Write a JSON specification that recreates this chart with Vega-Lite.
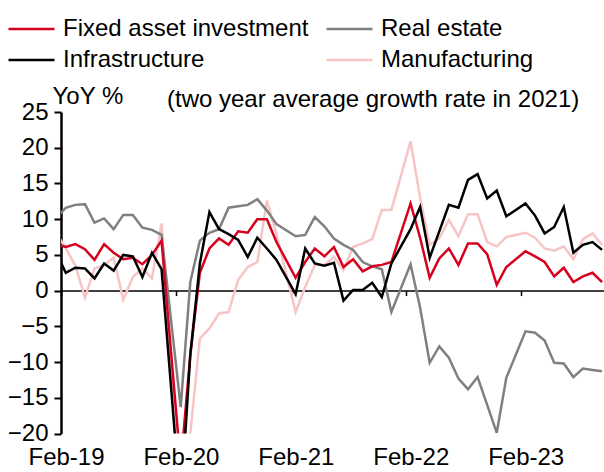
{
  "$schema": "https://vega.github.io/schema/vega-lite/v6.json",
  "width": 543,
  "height": 321.5,
  "autosize": {"type": "none"},
  "padding": {"left": 61, "top": 112, "right": 0, "bottom": 38.5},
  "background": "white",
  "config": {
    "view": {"stroke": null},
    "font": "Liberation Sans"
  },
  "title": {
    "text": "(two year average growth rate in 2021)",
    "orient": "top",
    "anchor": "start",
    "frame": "group",
    "dx": 106,
    "dy": 118,
    "offset": 2,
    "baseline": "alphabetic",
    "fontSize": 24,
    "fontWeight": "normal",
    "color": "#000000",
    "font": "Liberation Sans"
  },
  "data": {
    "values": [
      {"month": "Dec-18", "i": -2, "Fixed asset investment": 6.9, "Real estate": 8.7, "Infrastructure": 8.1, "Manufacturing": 10.3},
      {"month": "Feb-19", "i": 0, "Fixed asset investment": 6.1, "Real estate": 11.6, "Infrastructure": 2.5, "Manufacturing": 5.9},
      {"month": "Mar-19", "i": 1, "Fixed asset investment": 6.5, "Real estate": 12.0, "Infrastructure": 3.2, "Manufacturing": 3.5},
      {"month": "Apr-19", "i": 2, "Fixed asset investment": 5.8, "Real estate": 12.1, "Infrastructure": 3.1, "Manufacturing": -1.0},
      {"month": "May-19", "i": 3, "Fixed asset investment": 4.3, "Real estate": 9.5, "Infrastructure": 1.7, "Manufacturing": 3.1},
      {"month": "Jun-19", "i": 4, "Fixed asset investment": 6.5, "Real estate": 10.1, "Infrastructure": 3.8, "Manufacturing": 3.6},
      {"month": "Jul-19", "i": 5, "Fixed asset investment": 5.3, "Real estate": 8.6, "Infrastructure": 2.8, "Manufacturing": 4.6},
      {"month": "Aug-19", "i": 6, "Fixed asset investment": 4.4, "Real estate": 10.6, "Infrastructure": 5.0, "Manufacturing": -1.3},
      {"month": "Sep-19", "i": 7, "Fixed asset investment": 4.6, "Real estate": 10.6, "Infrastructure": 4.8, "Manufacturing": 1.9},
      {"month": "Oct-19", "i": 8, "Fixed asset investment": 3.7, "Real estate": 8.8, "Infrastructure": 1.9, "Manufacturing": 3.1},
      {"month": "Nov-19", "i": 9, "Fixed asset investment": 5.0, "Real estate": 8.5, "Infrastructure": 5.3, "Manufacturing": 1.7},
      {"month": "Dec-19", "i": 10, "Fixed asset investment": 7.0, "Real estate": 7.8, "Infrastructure": 3.0, "Manufacturing": 9.4},
      {"month": "Feb-20", "i": 12, "Fixed asset investment": -24.5, "Real estate": -16.3, "Infrastructure": -30.3, "Manufacturing": -31.5},
      {"month": "Mar-20", "i": 13, "Fixed asset investment": -9.0, "Real estate": 1.2, "Infrastructure": -9.0, "Manufacturing": -20.0},
      {"month": "Apr-20", "i": 14, "Fixed asset investment": 2.5, "Real estate": 7.0, "Infrastructure": 3.8, "Manufacturing": -6.7},
      {"month": "May-20", "i": 15, "Fixed asset investment": 5.9, "Real estate": 8.1, "Infrastructure": 11.0, "Manufacturing": -5.3},
      {"month": "Jun-20", "i": 16, "Fixed asset investment": 7.3, "Real estate": 8.6, "Infrastructure": 8.6, "Manufacturing": -3.2},
      {"month": "Jul-20", "i": 17, "Fixed asset investment": 6.4, "Real estate": 11.6, "Infrastructure": 7.9, "Manufacturing": -3.0},
      {"month": "Aug-20", "i": 18, "Fixed asset investment": 8.3, "Real estate": 11.8, "Infrastructure": 7.1, "Manufacturing": 1.5},
      {"month": "Sep-20", "i": 19, "Fixed asset investment": 8.1, "Real estate": 12.0, "Infrastructure": 4.7, "Manufacturing": 3.3},
      {"month": "Oct-20", "i": 20, "Fixed asset investment": 10.0, "Real estate": 12.8, "Infrastructure": 7.4, "Manufacturing": 4.0},
      {"month": "Nov-20", "i": 21, "Fixed asset investment": 10.0, "Real estate": 11.2, "Infrastructure": 5.9, "Manufacturing": 12.6},
      {"month": "Dec-20", "i": 22, "Fixed asset investment": 6.8, "Real estate": 9.3, "Infrastructure": 4.3, "Manufacturing": 7.9},
      {"month": "Feb-21", "i": 24, "Fixed asset investment": 1.8, "Real estate": 7.6, "Infrastructure": -0.5, "Manufacturing": -3.0},
      {"month": "Mar-21", "i": 25, "Fixed asset investment": 4.0, "Real estate": 7.8, "Infrastructure": 5.9, "Manufacturing": 0.5},
      {"month": "Apr-21", "i": 26, "Fixed asset investment": 5.9, "Real estate": 10.3, "Infrastructure": 3.8, "Manufacturing": 3.6},
      {"month": "May-21", "i": 27, "Fixed asset investment": 4.8, "Real estate": 9.0, "Infrastructure": 3.5, "Manufacturing": 3.6},
      {"month": "Jun-21", "i": 28, "Fixed asset investment": 6.1, "Real estate": 7.3, "Infrastructure": 3.9, "Manufacturing": 4.7},
      {"month": "Jul-21", "i": 29, "Fixed asset investment": 3.3, "Real estate": 6.4, "Infrastructure": -1.4, "Manufacturing": 2.9},
      {"month": "Aug-21", "i": 30, "Fixed asset investment": 4.4, "Real estate": 5.7, "Infrastructure": 0.1, "Manufacturing": 6.1},
      {"month": "Sep-21", "i": 31, "Fixed asset investment": 2.7, "Real estate": 4.0, "Infrastructure": 0.1, "Manufacturing": 6.6},
      {"month": "Oct-21", "i": 32, "Fixed asset investment": 3.4, "Real estate": 3.4, "Infrastructure": 1.1, "Manufacturing": 7.2},
      {"month": "Nov-21", "i": 33, "Fixed asset investment": 3.6, "Real estate": 3.0, "Infrastructure": -0.9, "Manufacturing": 11.3},
      {"month": "Dec-21", "i": 34, "Fixed asset investment": 4.0, "Real estate": -3.0, "Infrastructure": 3.8, "Manufacturing": 11.3},
      {"month": "Feb-22", "i": 36, "Fixed asset investment": 12.2, "Real estate": 3.7, "Infrastructure": 8.6, "Manufacturing": 20.9},
      {"month": "Mar-22", "i": 37, "Fixed asset investment": 7.4, "Real estate": -2.4, "Infrastructure": 11.7, "Manufacturing": 13.0},
      {"month": "Apr-22", "i": 38, "Fixed asset investment": 1.8, "Real estate": -10.1, "Infrastructure": 4.6, "Manufacturing": 6.4},
      {"month": "May-22", "i": 39, "Fixed asset investment": 4.5, "Real estate": -7.8, "Infrastructure": 8.3, "Manufacturing": 7.3},
      {"month": "Jun-22", "i": 40, "Fixed asset investment": 5.9, "Real estate": -9.4, "Infrastructure": 12.0, "Manufacturing": 9.9},
      {"month": "Jul-22", "i": 41, "Fixed asset investment": 3.6, "Real estate": -12.3, "Infrastructure": 11.6, "Manufacturing": 7.6},
      {"month": "Aug-22", "i": 42, "Fixed asset investment": 6.6, "Real estate": -13.8, "Infrastructure": 15.5, "Manufacturing": 10.7},
      {"month": "Sep-22", "i": 43, "Fixed asset investment": 6.6, "Real estate": -12.1, "Infrastructure": 16.3, "Manufacturing": 10.7},
      {"month": "Oct-22", "i": 44, "Fixed asset investment": 5.1, "Real estate": -16.0, "Infrastructure": 12.9, "Manufacturing": 6.8},
      {"month": "Nov-22", "i": 45, "Fixed asset investment": 0.8, "Real estate": -19.9, "Infrastructure": 14.0, "Manufacturing": 6.2},
      {"month": "Dec-22", "i": 46, "Fixed asset investment": 3.3, "Real estate": -12.2, "Infrastructure": 10.4, "Manufacturing": 7.5},
      {"month": "Feb-23", "i": 48, "Fixed asset investment": 5.5, "Real estate": -5.7, "Infrastructure": 12.2, "Manufacturing": 8.1},
      {"month": "Mar-23", "i": 49, "Fixed asset investment": 4.8, "Real estate": -5.9, "Infrastructure": 10.5, "Manufacturing": 7.4},
      {"month": "Apr-23", "i": 50, "Fixed asset investment": 4.0, "Real estate": -7.0, "Infrastructure": 8.0, "Manufacturing": 5.9},
      {"month": "May-23", "i": 51, "Fixed asset investment": 2.0, "Real estate": -10.1, "Infrastructure": 8.9, "Manufacturing": 5.6},
      {"month": "Jun-23", "i": 52, "Fixed asset investment": 3.2, "Real estate": -10.2, "Infrastructure": 11.7, "Manufacturing": 6.2},
      {"month": "Jul-23", "i": 53, "Fixed asset investment": 1.2, "Real estate": -12.1, "Infrastructure": 5.3, "Manufacturing": 4.4},
      {"month": "Aug-23", "i": 54, "Fixed asset investment": 2.0, "Real estate": -10.9, "Infrastructure": 6.4, "Manufacturing": 7.2},
      {"month": "Sep-23", "i": 55, "Fixed asset investment": 2.5, "Real estate": -11.1, "Infrastructure": 6.8, "Manufacturing": 8.0},
      {"month": "Oct-23", "i": 56, "Fixed asset investment": 1.2, "Real estate": -11.3, "Infrastructure": 5.7, "Manufacturing": 6.4}
    ]
  },
  "transform": [
    {"fold": ["Manufacturing", "Real estate", "Fixed asset investment", "Infrastructure"], "as": ["series", "value"]}
  ],
  "mark": {"type": "line", "clip": true, "strokeWidth": 2.5, "strokeJoin": "miter", "interpolate": "linear"},
  "encoding": {
    "x": {
      "field": "i",
      "type": "quantitative",
      "scale": {"domain": [-0.5, 56.2], "nice": false, "zero": false},
      "axis": {
        "title": null,
        "values": [-0.5, 11.5, 23.5, 35.5, 47.5],
        "offset": -142.9,
        "grid": false,
        "domain": true,
        "domainColor": "#000000",
        "domainWidth": 1.5,
        "ticks": true,
        "tickColor": "#000000",
        "tickWidth": 1.5,
        "tickSize": 5,
        "labelExpr": "'Feb-' + (19 + round((datum.value + 0.5) / 12))",
        "labelPadding": 150,
        "labelOffset": 5,
        "labelFlush": false,
        "labelOverlap": false,
        "labelFontSize": 24,
        "labelFont": "Liberation Sans",
        "labelColor": "#000000"
      }
    },
    "y": {
      "field": "value",
      "type": "quantitative",
      "scale": {"domain": [-20, 25], "nice": false, "zero": false},
      "axis": {
        "values": [-20, -15, -10, -5, 0, 5, 10, 15, 20, 25],
        "labelExpr": "replace(format(datum.value, 'd'), '-', '\u2212')",
        "grid": false,
        "domain": true,
        "domainColor": "#000000",
        "domainWidth": 2.5,
        "ticks": true,
        "tickColor": "#000000",
        "tickWidth": 2,
        "tickSize": 7,
        "labelPadding": 6,
        "labelFontSize": 24,
        "labelFont": "Liberation Sans",
        "labelColor": "#000000",
        "title": "YoY %",
        "titleAngle": 0,
        "titleX": -9,
        "titleY": -9,
        "titleAlign": "left",
        "titleBaseline": "alphabetic",
        "titleFontSize": 24,
        "titleFontWeight": "normal",
        "titleFont": "Liberation Sans",
        "titleColor": "#000000"
      }
    },
    "color": {
      "field": "series",
      "type": "nominal",
      "scale": {
        "domain": ["Fixed asset investment", "Real estate", "Infrastructure", "Manufacturing"],
        "range": ["#d7001f", "#808080", "#000000", "#f7c5c5"]
      },
      "legend": {
        "title": null,
        "orient": "none",
        "direction": "horizontal",
        "legendX": -54,
        "legendY": -97,
        "columns": 2,
        "symbolType": "stroke",
        "symbolSize": 2116,
        "symbolStrokeWidth": 2.5,
        "clipHeight": 28,
        "rowPadding": 3,
        "columnPadding": 16,
        "labelOffset": 7,
        "labelFontSize": 24,
        "labelFont": "Liberation Sans",
        "labelColor": "#000000",
        "labelLimit": 400
      }
    },
    "order": {"field": "i", "type": "quantitative"}
  }
}
